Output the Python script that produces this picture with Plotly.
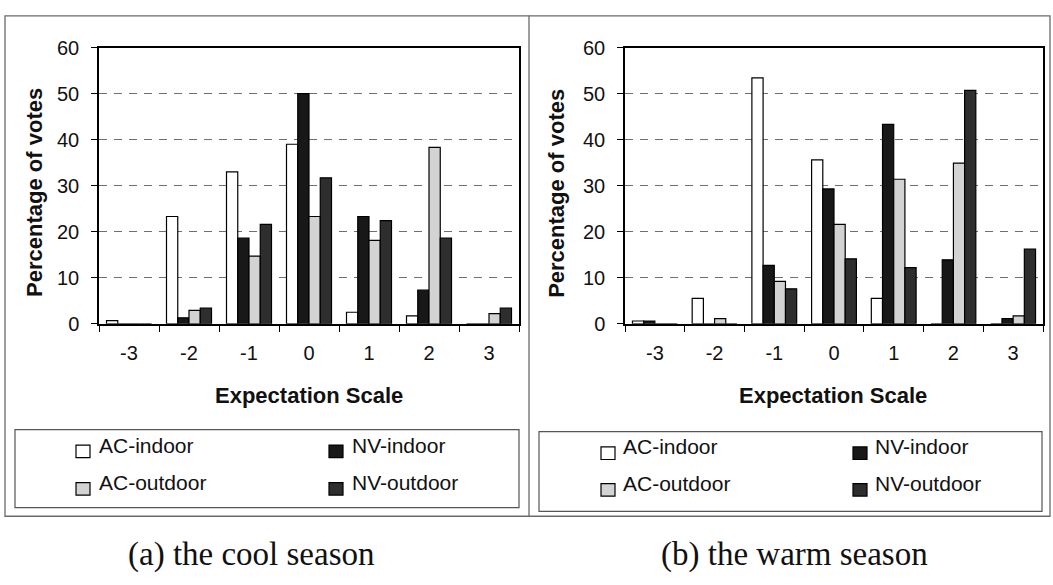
import plotly.graph_objects as go

# ---------------- data ----------------
categories = ["-3", "-2", "-1", "0", "1", "2", "3"]
series_names = ["AC-indoor", "NV-indoor", "AC-outdoor", "NV-outdoor"]

cool_ac_indoor = [0.7, 23.3, 33.0, 39.0, 2.5, 1.7, 0.0]
cool_nv_indoor = [0.0, 1.3, 18.6, 50.0, 23.3, 7.3, 0.0]
cool_ac_outdoor = [0.0, 2.9, 14.7, 23.3, 18.1, 38.3, 2.2]
cool_nv_outdoor = [0.0, 3.4, 21.6, 31.7, 22.4, 18.6, 3.4]

warm_ac_indoor = [0.6, 5.5, 53.4, 35.6, 5.5, 0.0, 0.0]
warm_nv_indoor = [0.6, 0.0, 12.7, 29.3, 43.3, 13.9, 1.1]
warm_ac_outdoor = [0.0, 1.1, 9.2, 21.6, 31.4, 34.9, 1.7]
warm_nv_outdoor = [0.0, 0.0, 7.6, 14.1, 12.2, 50.7, 16.2]

y_tick_values = [0, 10, 20, 30, 40, 50, 60]
x_title = "Expectation Scale"
y_title = "Percentage of votes"
captions = ["(a) the cool season", "(b) the warm season"]

# ---------------- styling ----------------
W, H = 1053, 585
fill_colors = ["#ffffff", "#181818", "#d3d3d3", "#2e2e2e"]
SANS = "Liberation Sans, Arial, sans-serif"
SERIF = "Liberation Serif, Times New Roman, serif"


def px(x):
    return x / W


def py(y):
    return 1 - y / H


fig = go.Figure()

panels = [
    ("x", "y", [cool_ac_indoor, cool_nv_indoor, cool_ac_outdoor, cool_nv_outdoor]),
    ("x2", "y2", [warm_ac_indoor, warm_nv_indoor, warm_ac_outdoor, warm_nv_outdoor]),
]
for xa, ya, series in panels:
    for name, vals, col in zip(series_names, series, fill_colors):
        fig.add_trace(go.Bar(
            x=categories, y=vals, name=name, xaxis=xa, yaxis=ya,
            marker=dict(color=col, line=dict(color="#000000", width=1.2)),
            showlegend=False,
        ))

axis_common_x = dict(
    type="category", showline=True, mirror=True, linecolor="#000", linewidth=1.5,
    ticks="outside", ticklen=6, tickwidth=1.2, tickcolor="#000", tickson="boundaries",
    showgrid=False, zeroline=False, ticklabelstandoff=10,
    tickfont=dict(family=SANS, size=20, color="#111"),
)
axis_common_y = dict(
    range=[0, 60], tickvals=y_tick_values, showline=True, mirror=True,
    linecolor="#000", linewidth=1.5, ticks="outside", ticklen=6, tickwidth=1.2,
    tickcolor="#000", showgrid=True, gridcolor="#6f6f6f", gridwidth=1,
    griddash="8px,7px", zeroline=False, ticklabelstandoff=8,
    tickfont=dict(family=SANS, size=20, color="#111"),
)

ydom = [py(325), py(38)]
fig.update_layout(
    width=W, height=H, margin=dict(l=0, r=0, t=0, b=0),
    paper_bgcolor="#ffffff", plot_bgcolor="#ffffff",
    barmode="group", bargap=0.25, bargroupgap=0.0, showlegend=False,
    xaxis=dict(domain=[px(99), px(519)], anchor="y", **axis_common_x),
    yaxis=dict(domain=ydom, anchor="x", **axis_common_y),
    xaxis2=dict(domain=[px(625), px(1043)], anchor="y2", **axis_common_x),
    yaxis2=dict(domain=ydom, anchor="x2", **axis_common_y),
)

shapes = []
annotations = []

# outer panel frames
frame_line = dict(color="#6a6a6a", width=1.3)
shapes.append(dict(type="rect", xref="paper", yref="paper", x0=px(5), x1=px(1050),
                   y0=py(525), y1=py(5), line=frame_line))
shapes.append(dict(type="line", xref="paper", yref="paper", x0=px(529), x1=px(529),
                   y0=py(525), y1=py(5), line=frame_line))

# axis titles
for xc, xt_y, yt_x, yt_y in [(309, 400, 35, 189), (833, 400, 557, 190)]:
    annotations.append(dict(text=f"<b>{x_title}</b>", xref="paper", yref="paper",
                            x=px(xc), y=py(xt_y), xanchor="center", yanchor="middle",
                            showarrow=False, font=dict(family=SANS, size=22, color="#111")))
    annotations.append(dict(text=f"<b>{y_title}</b>", xref="paper", yref="paper",
                            x=px(yt_x), y=py(yt_y), xanchor="center", yanchor="middle",
                            textangle=-90, showarrow=False,
                            font=dict(family=SANS, size=22, color="#111")))

# legend boxes (manual, two columns)
legend_boxes = [
    dict(box=(15, 435, 519, 516), col_x=(76, 329), text_x=(97, 350), rows=(451, 490)),
    dict(box=(539, 437, 1042, 520), col_x=(601, 853), text_x=(621, 873), rows=(453, 491)),
]
sw = 14
for lb in legend_boxes:
    x0, y0, x1, y1 = lb["box"]
    shapes.append(dict(type="rect", xref="paper", yref="paper", x0=px(x0), x1=px(x1),
                       y0=py(y1), y1=py(y0), line=dict(color="#555", width=1.2)))
    for i, (name, col) in enumerate(zip(series_names, fill_colors)):
        r, c = divmod(i, 2)
        sx = lb["col_x"][c]
        ty = lb["rows"][r]
        shapes.append(dict(type="rect", xref="paper", yref="paper",
                           x0=px(sx), x1=px(sx + sw), y0=py(ty + 13), y1=py(ty),
                           fillcolor=col, line=dict(color="#000", width=1.2)))
        annotations.append(dict(text=name, xref="paper", yref="paper",
                                x=px(lb["text_x"][c]), y=py(ty), xanchor="left",
                                yanchor="middle", showarrow=False,
                                font=dict(family=SANS, size=21, color="#111")))

# captions
for cap, cx in zip(captions, [251, 795]):
    annotations.append(dict(text=cap, xref="paper", yref="paper", x=px(cx), y=py(565),
                            xanchor="center", yanchor="middle", showarrow=False,
                            font=dict(family=SERIF, size=33, color="#111")))

fig.update_layout(shapes=shapes, annotations=annotations)
fig.write_html(
    "out.html",
    config={"displayModeBar": False},
    post_script="document.body.style.margin='0px';document.body.style.overflow='hidden';",
)
